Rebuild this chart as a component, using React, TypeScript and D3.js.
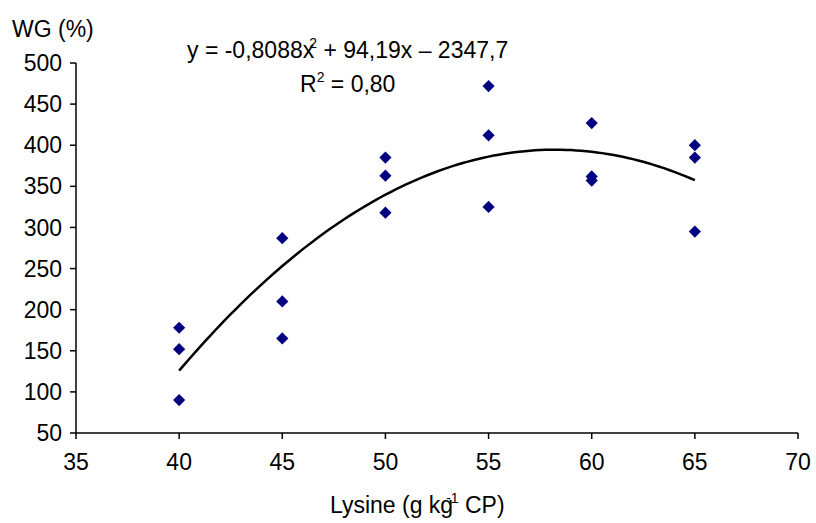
import React from "react";
import * as d3 from "d3";

// data
const lysine = [40, 40, 40, 45, 45, 45, 50, 50, 50, 55, 55, 55, 60, 60, 60, 65, 65, 65];
const wg = [178, 152, 90, 287, 210, 165, 385, 363, 318, 472, 412, 325, 427, 362, 357, 400, 385, 295];
const xTicks = [35, 40, 45, 50, 55, 60, 65, 70];
const yTicks = [50, 100, 150, 200, 250, 300, 350, 400, 450, 500];
// trendline coefficients printed on the chart: a*x^2 + b*x + c
const trendCoef = [-0.8088, 94.19, -2347.7];
const trendRange = [40, 65];

const W = 816;
const H = 523;
const font = "'Liberation Sans', Arial, sans-serif";
const fs = 23;

export default function App() {
  const x = d3.scaleLinear().domain([35, 70]).range([76, 798]);
  const y = d3.scaleLinear().domain([50, 500]).range([433, 63]);

  const [a, b, c] = trendCoef;
  const trendX = d3.range(trendRange[0], trendRange[1] + 0.01, 0.25);
  const line = d3
    .line<number>()
    .x((d) => x(d))
    .y((d) => y(a * d * d + b * d + c));

  const diamond = d3.symbol().type(d3.symbolDiamond2).size(95)();

  return (
    <svg
      width={W}
      height={H}
      style={{ position: "absolute", left: 0, top: 0, background: "#fff" }}
      fontFamily={font}
    >
      {/* y axis */}
      <line x1={x(35)} x2={x(35)} y1={y(500)} y2={y(50)} stroke="#000" strokeWidth={1.5} />
      {yTicks.map((t) => (
        <g key={t} transform={`translate(0,${y(t)})`}>
          <line x1={x(35) - 6} x2={x(35)} stroke="#000" strokeWidth={1.5} />
          <text x={x(35) - 14} dy="0.35em" textAnchor="end" fontSize={fs}>
            {t}
          </text>
        </g>
      ))}
      {/* x axis */}
      <line x1={x(35)} x2={x(70)} y1={y(50)} y2={y(50)} stroke="#000" strokeWidth={1.5} />
      {xTicks.map((t) => (
        <g key={t} transform={`translate(${x(t)},${y(50)})`}>
          <line y1={0} y2={6} stroke="#000" strokeWidth={1.5} />
          <text y={37} textAnchor="middle" fontSize={fs}>
            {t}
          </text>
        </g>
      ))}

      {/* points */}
      {lysine.map((l, i) => (
        <path key={i} d={diamond!} transform={`translate(${x(l)},${y(wg[i])})`} fill="#000080" />
      ))}

      {/* trendline */}
      <path d={line(trendX)!} fill="none" stroke="#000" strokeWidth={2.5} />

      {/* labels */}
      <text x={12} y={37} fontSize={fs}>WG (%)</text>
      <text x={187} y={58} fontSize={fs}>
        y = -0,8088x
        <tspan dx={-5} dy={-10} fontSize={14}>2</tspan>
        <tspan dy={10}> + 94,19x – 2347,7</tspan>
      </text>
      <text x={300} y={92} fontSize={fs}>
        R<tspan dy={-10} fontSize={14}>2</tspan>
        <tspan dy={10}> = 0,80</tspan>
      </text>
      <text x={330} y={513} fontSize={fs}>
        Lysine (g kg
        <tspan dx={-7} dy={-10} fontSize={14}>-1</tspan>
        <tspan dy={10}> CP)</tspan>
      </text>
    </svg>
  );
}
